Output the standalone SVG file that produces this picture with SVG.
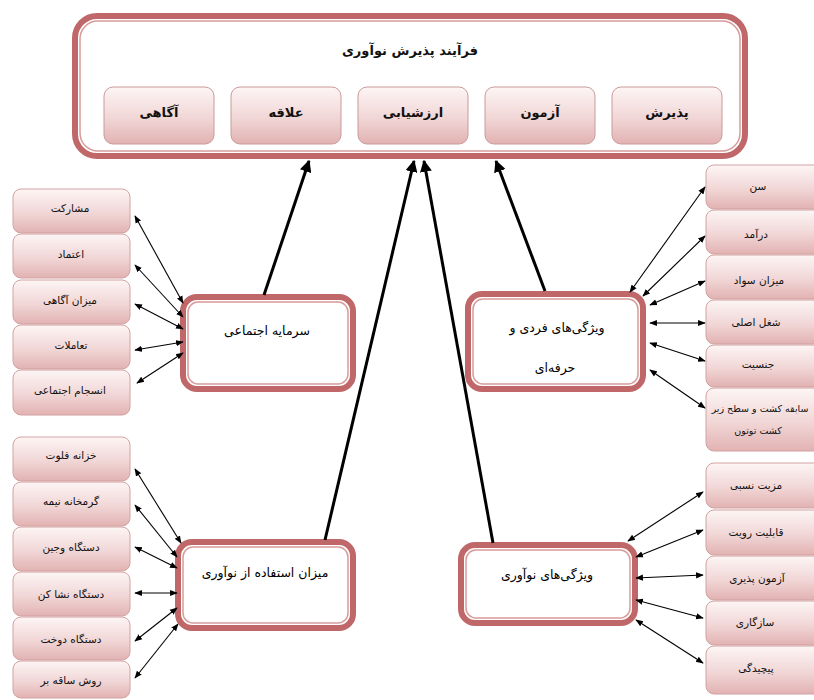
<svg xmlns="http://www.w3.org/2000/svg" width="814" height="700" viewBox="0 0 814 700">
<defs>
<linearGradient id="pink" x1="0" y1="0" x2="0" y2="1">
<stop offset="0" stop-color="#fdf5f5"/>
<stop offset="0.55" stop-color="#f1d6d6"/>
<stop offset="1" stop-color="#e2b2b2"/>
</linearGradient>
<marker id="thick" viewBox="0 0 10 10" refX="9" refY="5" markerWidth="4" markerHeight="4" orient="auto" markerUnits="strokeWidth">
<path d="M0,0 L10,5 L0,10 z" fill="#000"/>
</marker>
<marker id="thin" viewBox="0 0 10 10" refX="9" refY="5" markerWidth="7" markerHeight="7" orient="auto-start-reverse" markerUnits="strokeWidth">
<path d="M0,1 L10,5 L0,9 z" fill="#000"/>
</marker>
</defs>
<style>
text{font-family:"DejaVu Sans",sans-serif;text-anchor:middle;dominant-baseline:central;fill:#111}
.item{fill:url(#pink);stroke:#d3a2a2;stroke-width:1}
.it{font-size:10.5px}
.stage{fill:url(#pink);stroke:#c99a9a;stroke-width:1}
.st{font-size:13px;font-weight:bold}
.main{fill:#fff;stroke:#c0676a;stroke-width:6}
.inner{fill:none;stroke:#d99a9a;stroke-width:1.5}
.mt{font-size:12.5px;fill:#000}
.big{stroke:#000;stroke-width:3;fill:none;marker-end:url(#thick)}
.small{stroke:#000;stroke-width:1.1;fill:none;marker-start:url(#thin);marker-end:url(#thin)}
</style>
<rect width="814" height="700" fill="#fff"/>

<g id="process">
<rect class="main" x="75" y="16" width="670" height="140" rx="22"/>
<rect class="inner" x="80" y="21" width="660" height="130" rx="18"/>
<text x="410" y="50" style="font-size:13px;font-weight:bold">فرآیند پذیرش نوآوری</text>
</g>
<g id="stage-agahi"><rect class="stage" x="104" y="87" width="110" height="57" rx="9"/><text class="st" x="159" y="112">آگاهی</text></g>
<g id="stage-alaghe"><rect class="stage" x="231" y="87" width="110" height="57" rx="9"/><text class="st" x="286" y="112">علاقه</text></g>
<g id="stage-arzeshyabi"><rect class="stage" x="358" y="87" width="110" height="57" rx="9"/><text class="st" x="413" y="112">ارزشیابی</text></g>
<g id="stage-azmoon"><rect class="stage" x="485" y="87" width="110" height="57" rx="9"/><text class="st" x="540" y="112">آزمون</text></g>
<g id="stage-paziresh"><rect class="stage" x="612" y="87" width="110" height="57" rx="9"/><text class="st" x="667" y="112">پذیرش</text></g>

<g id="social-capital">
<rect class="main" x="183" y="297" width="170" height="92" rx="14"/>
<rect class="inner" x="188" y="302" width="160" height="82" rx="10"/>
<text class="mt" x="267" y="330">سرمایه اجتماعی</text>
</g>
<g id="personal">
<rect class="main" x="468" y="294" width="175" height="95" rx="14"/>
<rect class="inner" x="473" y="299" width="165" height="85" rx="10"/>
<text class="mt" x="557" y="327">ویژگی‌های فردی و</text>
<text class="mt" x="555" y="367">حرفه‌ای</text>
</g>
<g id="usage">
<rect class="main" x="178" y="542" width="175" height="86" rx="14"/>
<rect class="inner" x="183" y="547" width="165" height="76" rx="10"/>
<text class="mt" x="265" y="572">میزان استفاده از نوآوری</text>
</g>
<g id="innovation">
<rect class="main" x="461" y="545" width="174" height="78" rx="14"/>
<rect class="inner" x="466" y="550" width="164" height="68" rx="10"/>
<text class="mt" x="547" y="574">ویژگی‌های نوآوری</text>
</g>

<g id="left-top">
<g id="l1"><rect class="item" x="13" y="189" width="117" height="44" rx="8"/><text class="it" x="70" y="208">مشارکت</text></g>
<g id="l2"><rect class="item" x="13" y="234" width="117" height="44" rx="8"/><text class="it" x="71" y="254">اعتماد</text></g>
<g id="l3"><rect class="item" x="13" y="280" width="117" height="44" rx="8"/><text class="it" x="70" y="300">میزان آگاهی</text></g>
<g id="l4"><rect class="item" x="13" y="325" width="117" height="44" rx="8"/><text class="it" x="71" y="345">تعاملات</text></g>
<g id="l5"><rect class="item" x="13" y="370" width="117" height="45" rx="8"/><text class="it" x="70" y="390">انسجام اجتماعی</text></g>
</g>
<g id="left-bottom">
<g id="b1"><rect class="item" x="13" y="437" width="117" height="44" rx="8"/><text class="it" x="71" y="455">خزانه فلوت</text></g>
<g id="b2"><rect class="item" x="13" y="482" width="117" height="44" rx="8"/><text class="it" x="71" y="501">گرمخانه نیمه</text></g>
<g id="b3"><rect class="item" x="13" y="527" width="117" height="44" rx="8"/><text class="it" x="71" y="547">دستگاه وجین</text></g>
<g id="b4"><rect class="item" x="13" y="572" width="117" height="44" rx="8"/><text class="it" x="71" y="594">دستگاه نشا کن</text></g>
<g id="b5"><rect class="item" x="13" y="617" width="117" height="43" rx="8"/><text class="it" x="71" y="639">دستگاه دوخت</text></g>
<g id="b6"><rect class="item" x="13" y="661" width="117" height="37" rx="8"/><text class="it" x="71" y="680">روش ساقه بر</text></g>
</g>
<g id="right-top">
<g id="r1"><rect class="item" x="706" y="165" width="120" height="44" rx="8"/><text class="it" x="758" y="186">سن</text></g>
<g id="r2"><rect class="item" x="706" y="210" width="120" height="44" rx="8"/><text class="it" x="756" y="234">درآمد</text></g>
<g id="r3"><rect class="item" x="706" y="255" width="120" height="44" rx="8"/><text class="it" x="759" y="280">میزان سواد</text></g>
<g id="r4"><rect class="item" x="706" y="300" width="120" height="44" rx="8"/><text class="it" x="756" y="322">شغل اصلی</text></g>
<g id="r5"><rect class="item" x="706" y="345" width="120" height="42" rx="8"/><text class="it" x="758" y="364">جنسیت</text></g>
<g id="r6"><rect class="item" x="706" y="388" width="120" height="63" rx="8"/><text class="it" x="760" y="408" style="font-size:9.5px">سابقه کشت و سطح زیر</text><text class="it" x="758" y="430" style="font-size:9.5px">کشت توتون</text></g>
</g>
<g id="right-bottom">
<g id="s1"><rect class="item" x="706" y="463" width="120" height="45" rx="8"/><text class="it" x="756" y="485">مزیت نسبی</text></g>
<g id="s2"><rect class="item" x="706" y="510" width="120" height="45" rx="8"/><text class="it" x="756" y="532">قابلیت رویت</text></g>
<g id="s3"><rect class="item" x="706" y="556" width="120" height="44" rx="8"/><text class="it" x="757" y="578">آزمون پذیری</text></g>
<g id="s4"><rect class="item" x="706" y="601" width="120" height="44" rx="8"/><text class="it" x="755" y="622">سازگاری</text></g>
<g id="s5"><rect class="item" x="706" y="646" width="120" height="48" rx="8"/><text class="it" x="756" y="668">پیچیدگی</text></g>
</g>

<g id="connectors">
<line class="big" x1="264" y1="295" x2="309" y2="161"/>
<line class="big" x1="325" y1="540" x2="414" y2="161"/>
<line class="big" x1="493" y1="543" x2="424" y2="161"/>
<line class="big" x1="545" y1="291" x2="496" y2="161"/>

<line class="small" x1="135" y1="216" x2="183" y2="303"/>
<line class="small" x1="135" y1="265" x2="183" y2="317"/>
<line class="small" x1="135" y1="304" x2="183" y2="329"/>
<line class="small" x1="135" y1="350" x2="183" y2="342"/>
<line class="small" x1="137" y1="383" x2="183" y2="353"/>

<line class="small" x1="135" y1="469" x2="181" y2="543"/>
<line class="small" x1="135" y1="505" x2="177" y2="557"/>
<line class="small" x1="135" y1="547" x2="177" y2="568"/>
<line class="small" x1="135" y1="593" x2="177" y2="593"/>
<line class="small" x1="135" y1="641" x2="177" y2="608"/>
<line class="small" x1="135" y1="678" x2="178" y2="624"/>

<line class="small" x1="705" y1="187" x2="630" y2="292"/>
<line class="small" x1="705" y1="236" x2="643" y2="296"/>
<line class="small" x1="705" y1="281" x2="650" y2="305"/>
<line class="small" x1="705" y1="323" x2="650" y2="323"/>
<line class="small" x1="705" y1="361" x2="650" y2="343"/>
<line class="small" x1="705" y1="408" x2="650" y2="370"/>

<line class="small" x1="703" y1="492" x2="628" y2="541"/>
<line class="small" x1="703" y1="530" x2="636" y2="557"/>
<line class="small" x1="703" y1="575" x2="636" y2="578"/>
<line class="small" x1="703" y1="618" x2="636" y2="600"/>
<line class="small" x1="703" y1="663" x2="636" y2="620"/>
</g>
</svg>
